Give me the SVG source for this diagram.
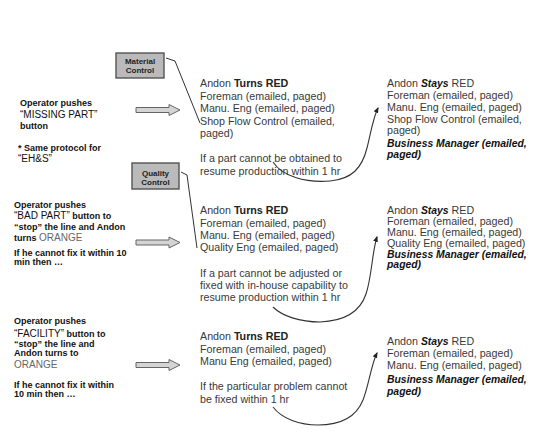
<svg xmlns="http://www.w3.org/2000/svg" width="534" height="432" viewBox="0 0 534 432">
<style>
  .op { font-family: "Liberation Sans", Arial, sans-serif; font-weight: bold; font-size: 9px; fill: #111; }
  .big { font-weight: normal; font-size: 10px; fill: #111; }
  .orange { font-weight: normal; font-size: 10px; fill: #666; }
  .body { font-family: "Liberation Sans", Arial, sans-serif; font-size: 10.7px; fill: #3a3a3a; }
  .b { font-weight: bold; fill: #222; }
  .bi { font-weight: bold; font-style: italic; fill: #111; font-size: 10.4px; }
  .boxlbl { font-family: "Liberation Sans", Arial, sans-serif; font-weight: bold; font-size: 8px; fill: #222; text-anchor: middle; }
  .box { fill: #bababa; stroke: #555; stroke-width: 1.4; }
  .blk { fill: #d4d4d4; stroke: #666; stroke-width: 1; }
  .conn { fill: none; stroke: #333; stroke-width: 1; }
  .curve { fill: none; stroke: #333; stroke-width: 1.1; }
</style>
<defs>
  <path id="blockArrow" d="M136,-2.5 L169,-2.5 L169,-5.5 L180,0 L169,5.5 L169,2.5 L136,2.5 Z"/>
  <marker id="tip" viewBox="0 0 10 10" refX="8" refY="5" markerWidth="6" markerHeight="6" orient="auto" markerUnits="userSpaceOnUse">
    <path d="M0,1 L10,5 L0,9 Z" fill="#222"/>
  </marker>
</defs>
<rect width="534" height="432" fill="#ffffff"/>

<!-- Left column: operator actions -->
<g id="op-missing-part">
  <text class="op" x="20" y="106">Operator pushes</text>
  <text class="op big" x="20" y="118">“MISSING PART”</text>
  <text class="op" x="20" y="129">button</text>
  <text class="op" x="18" y="151">* Same protocol for</text>
  <text class="op big" x="18" y="162">“EH&amp;S”</text>
</g>
<g id="op-bad-part">
  <text class="op" x="14" y="208">Operator pushes</text>
  <text class="op" x="14" y="219"><tspan class="big" font-size="9">“BAD PART”</tspan> button to</text>
  <text class="op" x="14" y="229.5">“stop” the line and Andon</text>
  <text class="op" x="14" y="241">turns <tspan class="orange">ORANGE</tspan></text>
  <text class="op" x="14" y="256">If he cannot fix it within 10</text>
  <text class="op" x="14" y="264.5">min then …</text>
</g>
<g id="op-facility">
  <text class="op" x="14" y="324">Operator pushes</text>
  <text class="op" x="14" y="337"><tspan class="big">“FACILITY”</tspan> button to</text>
  <text class="op" x="14" y="346.5">“stop” the line and</text>
  <text class="op" x="14" y="356">Andon turns to</text>
  <text class="op orange" x="14" y="368">ORANGE</text>
  <text class="op" x="14" y="388">If he cannot fix it within</text>
  <text class="op" x="14" y="397">10 min then …</text>
</g>

<!-- Block arrows -->
<g id="arrow-1"><use href="#blockArrow" class="blk" transform="translate(0,110)"/></g>
<g id="arrow-2"><use href="#blockArrow" class="blk" transform="translate(0,242.5)"/></g>
<g id="arrow-3"><use href="#blockArrow" class="blk" transform="translate(0,365)"/></g>

<!-- Boxes -->
<g id="material-control">
  <rect class="box" x="116" y="53" width="48" height="25"/>
  <text class="boxlbl" x="140" y="63.5">Material</text>
  <text class="boxlbl" x="140" y="72.5">Control</text>
</g>
<g id="quality-control">
  <rect class="box" x="132" y="163" width="47" height="26"/>
  <text class="boxlbl" x="155.5" y="175.5">Quality</text>
  <text class="boxlbl" x="155.5" y="184.5">Control</text>
</g>

<!-- Middle column: Andon turns RED -->
<g id="red-missing-part">
  <text class="body" x="200" y="87">Andon <tspan class="b">Turns RED</tspan></text>
  <text class="body" x="200" y="99.5">Foreman (emailed, paged)</text>
  <text class="body" x="200" y="112">Manu. Eng (emailed, paged)</text>
  <text class="body" x="200" y="124.5">Shop Flow Control (emailed,</text>
  <text class="body" x="200" y="137">paged)</text>
  <text class="body" x="200" y="162">If a part cannot be obtained to</text>
  <text class="body" x="200" y="174.5">resume production within 1 hr</text>
</g>
<g id="red-bad-part">
  <text class="body" x="200" y="214">Andon <tspan class="b">Turns RED</tspan></text>
  <text class="body" x="200" y="226.5">Foreman (emailed, paged)</text>
  <text class="body" x="200" y="239">Manu. Eng (emailed, paged)</text>
  <text class="body" x="200" y="251">Quality Eng (emailed, paged)</text>
  <text class="body" x="200" y="277">If a part cannot be adjusted or</text>
  <text class="body" x="200" y="289">fixed with in-house capability to</text>
  <text class="body" x="200" y="301">resume production within 1 hr</text>
</g>
<g id="red-facility">
  <text class="body" x="200" y="340">Andon <tspan class="b">Turns RED</tspan></text>
  <text class="body" x="200" y="352.5">Foreman (emailed, paged)</text>
  <text class="body" x="200" y="365">Manu Eng (emailed, paged)</text>
  <text class="body" x="200" y="390">If the particular problem cannot</text>
  <text class="body" x="200" y="402.5">be fixed within 1 hr</text>
</g>

<!-- Right column: Andon stays RED -->
<g id="stays-missing-part">
  <text class="body" x="387" y="87">Andon <tspan class="bi">Stays</tspan> RED</text>
  <text class="body" x="387" y="99">Foreman (emailed, paged)</text>
  <text class="body" x="387" y="111">Manu. Eng (emailed, paged)</text>
  <text class="body" x="387" y="122.5">Shop Flow Control (emailed,</text>
  <text class="body" x="387" y="134">paged)</text>
  <text class="body bi" x="387" y="146.5">Business Manager (emailed,</text>
  <text class="body bi" x="387" y="158">paged)</text>
</g>
<g id="stays-bad-part">
  <text class="body" x="387" y="214">Andon <tspan class="bi">Stays</tspan> RED</text>
  <text class="body" x="387" y="225">Foreman (emailed, paged)</text>
  <text class="body" x="387" y="236">Manu. Eng (emailed, paged)</text>
  <text class="body" x="387" y="247">Quality Eng (emailed, paged)</text>
  <text class="body bi" x="387" y="257.5">Business Manager (emailed,</text>
  <text class="body bi" x="387" y="268">paged)</text>
</g>
<g id="stays-facility">
  <text class="body" x="387" y="345">Andon <tspan class="bi">Stays</tspan> RED</text>
  <text class="body" x="387" y="357">Foreman (emailed, paged)</text>
  <text class="body" x="387" y="369">Manu. Eng (emailed, paged)</text>
  <text class="body bi" x="387" y="383">Business Manager (emailed,</text>
  <text class="body bi" x="387" y="394.5">paged)</text>
</g>

<!-- Connectors -->
<g id="connectors">
  <polyline class="conn" points="166,58 175,61 200,123"/>
  <polyline class="conn" points="181,172 187,175 197,248"/>
  <path class="curve" marker-end="url(#tip)" d="M273,162 C282,176 305,183 330,181 C352,179 362,168 367,148 C371,132 373,118 378,108"/>
  <path class="curve" marker-end="url(#tip)" d="M273,307 C282,316 300,322 320,322 C345,321 360,312 366,294 C372,276 372,252 377,237"/>
  <path class="curve" marker-end="url(#tip)" d="M273,407 C282,419 300,425 318,425 C343,425 357,415 363,400 C369,385 371,365 377,353"/>
</g>
</svg>
